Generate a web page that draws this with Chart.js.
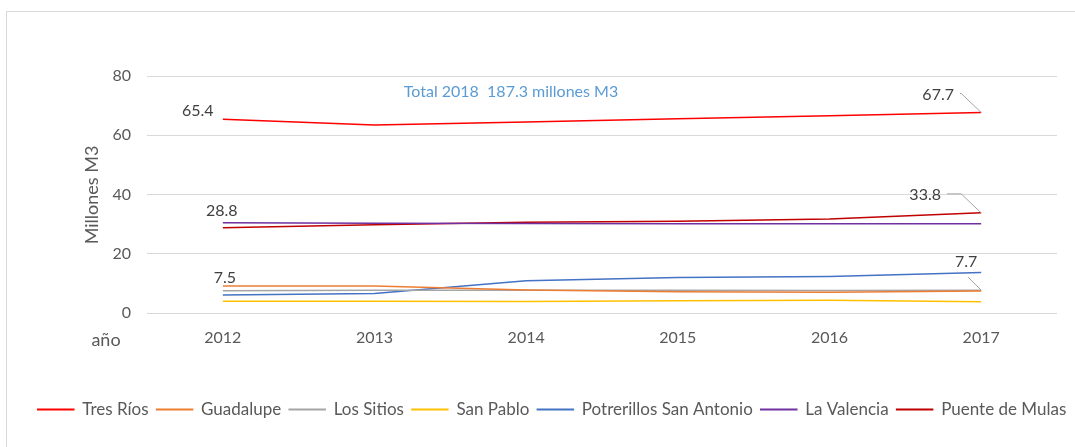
<!DOCTYPE html>
<html>
<head>
<meta charset="utf-8">
<script src="https://cdn.jsdelivr.net/npm/chart.js@4/dist/chart.umd.min.js"></script>
<style>
  html, body { margin: 0; padding: 0; background: #fff; }
  canvas { display: block; }
</style>
</head>
<body>
<canvas id="chart" width="1075" height="447"></canvas>
<script>
// data
const years = ["2012", "2013", "2014", "2015", "2016", "2017"];
const tresRios       = [65.4, 63.5, 64.5, 65.6, 66.6, 67.7];
const guadalupe      = [9.1, 9.1, 7.8, 7.2, 7.0, 7.4];
const losSitios      = [7.5, 7.7, 7.7, 7.7, 7.6, 7.7];
const sanPablo       = [4.0, 4.0, 3.9, 4.1, 4.3, 3.8];
const potrerillos    = [6.1, 6.6, 10.9, 12.0, 12.3, 13.7];
const laValencia     = [30.5, 30.3, 30.2, 30.1, 30.1, 30.1];
const puenteDeMulas  = [28.8, 29.8, 30.6, 31.0, 31.7, 33.8];
const yTicks = [0, 20, 40, 60, 80];
const noteText = "Total 2018  187.3 millones M3";

const FONT = "Lato, 'Open Sans', sans-serif";
const TXT = "#595959";

function ds(label, vals, color){
  return { label, data: vals, borderColor: color, backgroundColor: color,
           borderWidth: 1.5, pointRadius: 0, tension: 0, fill: false };
}

// which values carry a label (dataset index, point index) + where the text sits
const valueLabels = [
  { d: 0, i: 0, dx: -25, dy: -8 },
  { d: 0, i: 5, dx: -43, dy: -18, leader: true },
  { d: 6, i: 0, dx: -1, dy: -17 },
  { d: 6, i: 5, dx: -56, dy: -18, leader: true },
  { d: 2, i: 0, dx: 2, dy: -13 },
  { d: 2, i: 5, dx: -15, dy: -28, leader: true, down: true }
];

const extras = {
  id: "extras",
  beforeDraw(chart){
    const c = chart.ctx;
    c.save();
    c.strokeStyle = "#d9d9d9"; c.lineWidth = 1;
    c.strokeRect(6.5, 11.5, 1100, 500);
    c.restore();
  },
  afterDraw(chart){
    const c = chart.ctx, xs = chart.scales.x, ys = chart.scales.y;
    c.save();
    // axis title (rotated)
    c.fillStyle = TXT; c.font = "18px " + FONT;
    c.translate(92, 195);
    c.rotate(-Math.PI / 2);
    c.textAlign = "center"; c.textBaseline = "middle";
    c.fillText("Millones M3", 0, 0);
    c.setTransform(1, 0, 0, 1, 0, 0);
    c.font = "18px " + FONT;
    c.fillText("año", 106, 340);
    // note
    c.fillStyle = "#5b9bd5"; c.font = "16px " + FONT;
    c.fillText(noteText, 511, 92);
    // value labels
    c.font = "16px " + FONT;
    valueLabels.forEach(l => {
      const v = chart.data.datasets[l.d].data[l.i];
      const px = xs.getPixelForValue(l.i), py = ys.getPixelForValue(v);
      const tx = px + l.dx, ty = py + l.dy;
      const txt = v.toFixed(1);
      c.fillStyle = "#404040";
      c.fillText(txt, tx, ty);
      if(l.leader){
        c.strokeStyle = "#a5a5a5"; c.lineWidth = 1;
        c.beginPath();
        if(l.down){
          c.moveTo(tx + 2, ty + 15);
          c.lineTo(px, py);
        } else {
          const w = c.measureText(txt).width;
          c.moveTo(tx + w / 2 + 6, ty - 1);
          c.lineTo(px - 20, ty - 1);
          c.lineTo(px, py);
        }
        c.stroke();
      }
    });
    c.restore();
  }
};

new Chart(document.getElementById("chart"), {
  type: "line",
  data: {
    labels: years,
    datasets: [
      ds("Tres Ríos", tresRios, "#ff0000"),
      ds("Guadalupe", guadalupe, "#ed7d31"),
      ds("Los Sitios", losSitios, "#a5a5a5"),
      ds("San Pablo", sanPablo, "#ffc000"),
      ds("Potrerillos San Antonio", potrerillos, "#4472c4"),
      ds("La Valencia", laValencia, "#7030a0"),
      ds("Puente de Mulas", puenteDeMulas, "#c00000")
    ]
  },
  options: {
    responsive: false,
    animation: false,
    layout: { padding: { top: 76, right: 0, left: 29, bottom: 19 } },
    plugins: {
      tooltip: { enabled: false },
      legend: {
        position: "bottom",
        labels: {
          boxWidth: 36, boxHeight: 0.5, padding: 8,
          color: TXT, font: { family: FONT, size: 17 }
        }
      }
    },
    scales: {
      x: {
        offset: true,
        afterFit: s => { s.height = 80; },
        grid: { display: false, drawTicks: false }, border: { display: false },
        ticks: { padding: 15, color: TXT, font: { family: FONT, size: 16 } }
      },
      y: {
        min: 0, max: 80,
        afterBuildTicks: s => { s.ticks = yTicks.map(v => ({ value: v })); },
        afterFit: s => { s.width = 118; },
        grid: { color: "#d9d9d9", lineWidth: 1, drawTicks: false },
        border: { display: false },
        ticks: { padding: 16, color: TXT, font: { family: FONT, size: 16 } }
      },
      // empty right axis, only keeps the plot's right margin
      y2: {
        position: "right", min: 0, max: 80,
        afterFit: s => { s.width = 18; },
        grid: { display: false, drawTicks: false }, border: { display: false },
        ticks: { display: false }
      }
    }
  },
  plugins: [extras]
});
</script>
</body>
</html>
